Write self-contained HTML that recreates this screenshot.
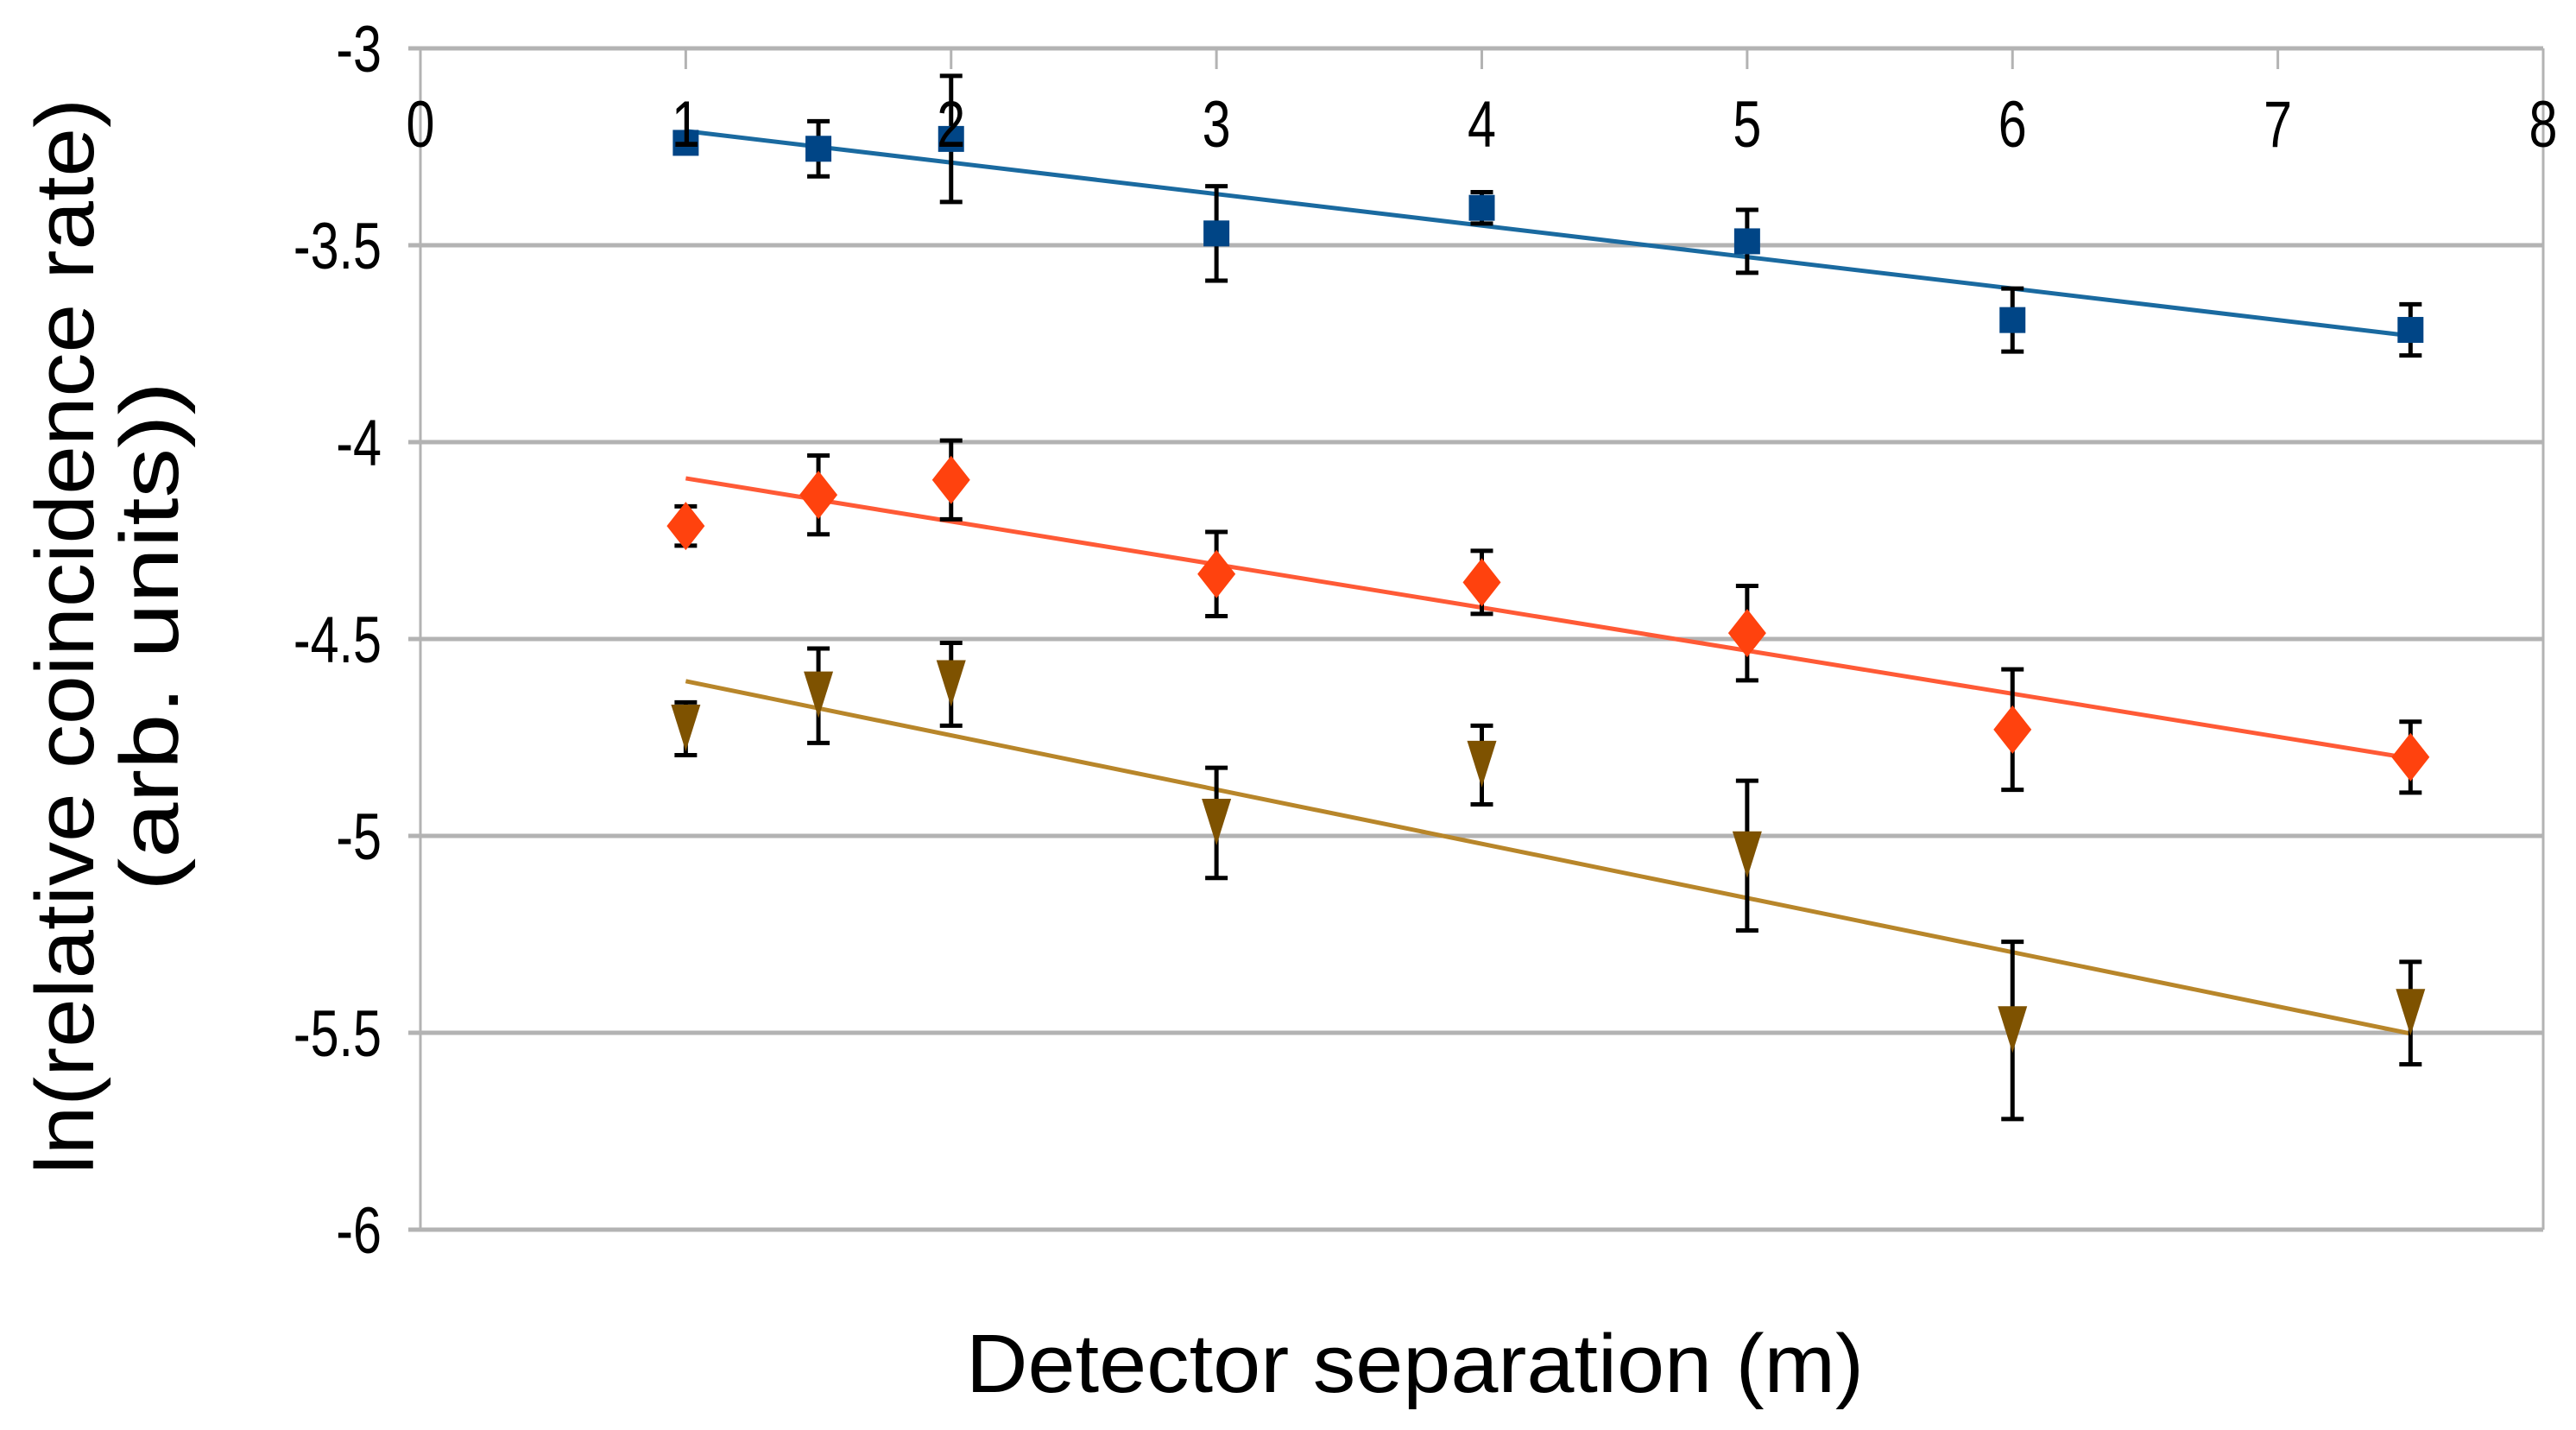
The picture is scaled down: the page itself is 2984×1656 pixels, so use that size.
<!DOCTYPE html>
<html><head><meta charset="utf-8"><style>
html,body{margin:0;padding:0;background:#fff;}
svg{display:block;font-family:"Liberation Sans",sans-serif;}
</style></head><body>
<svg id="chart" width="2984" height="1656" viewBox="0 0 2984 1656" xmlns="http://www.w3.org/2000/svg">
<g id="grid"></g>
<g id="fits"></g>
<g id="errs"></g>
<g id="marks"></g>
<g id="labels"></g>
<text x="1639" y="1612" font-size="96" text-anchor="middle" textLength="1040" lengthAdjust="spacingAndGlyphs">Detector separation (m)</text>
<g transform="translate(76,737) rotate(-90)">
<text x="0" y="32" font-size="96" text-anchor="middle" textLength="1246" lengthAdjust="spacingAndGlyphs">ln(relative  coincidence rate)</text>
<text x="0" y="130" font-size="96" text-anchor="middle" textLength="590" lengthAdjust="spacingAndGlyphs">(arb. units))</text>
</g>
</svg>
<script>
const xs = [1, 1.5, 2, 3, 4, 5, 6, 7.5];
const blueVals = [-3.24, -3.255, -3.23, -3.47, -3.405, -3.49, -3.69, -3.715];
const blueErr = [0.02, 0.07, 0.16, 0.12, 0.04, 0.08, 0.08, 0.065];
const redVals = [-4.213, -4.134, -4.096, -4.335, -4.356, -4.485, -4.73, -4.8];
const redErr = [0.05, 0.10, 0.10, 0.107, 0.08, 0.12, 0.153, 0.09];
const brownVals = [-4.728, -4.644, -4.615, -4.967, -4.82, -5.05, -5.494, -5.45];
const brownErr = [0.067, 0.12, 0.105, 0.14, 0.10, 0.19, 0.225, 0.13];
const blueFit = [-3.21, -3.73];
const redFit = [-4.092, -4.803];
const brownFit = [-4.607, -5.502];
const fitRange = [1, 7.5];
const xTicks = [0, 1, 2, 3, 4, 5, 6, 7, 8];
const yTicks = [-3, -3.5, -4, -4.5, -5, -5.5, -6];

const X0 = 487, X1 = 2946, Y0 = 56, Y1 = 1424;
const sx = v => X0 + (v - 0) / 8 * (X1 - X0);
const sy = v => Y0 + (-3 - v) / 3 * (Y1 - Y0);
const NS = "http://www.w3.org/2000/svg";
function mk(tag, parent, attrs) {
  const e = document.createElementNS(NS, tag);
  for (const k in attrs) e.setAttribute(k, attrs[k]);
  parent.appendChild(e);
  return e;
}
const grid = document.getElementById('grid');
const labels = document.getElementById('labels');
yTicks.forEach(t => {
  const l = mk('line', grid, {x1: X0 - 14, x2: X1, y1: sy(t), y2: sy(t), stroke: '#b3b3b3', 'stroke-width': 5});
  
  
  const tx = mk('text', labels, {x: 442, y: sy(t) + 27, 'font-size': 76, 'text-anchor': 'end', transform: `translate(442,0) scale(0.78,1) translate(-442,0)`});
  tx.textContent = String(t);
  
  
});
const vax = mk('line', grid, {x1: X0, x2: X0, y1: Y0, y2: Y1, stroke: '#b3b3b3', 'stroke-width': 3});


const rax = mk('line', grid, {x1: X1, x2: X1, y1: Y0, y2: Y1, stroke: '#b3b3b3', 'stroke-width': 3});


xTicks.forEach(t => {
  const l = mk('line', grid, {x1: sx(t), x2: sx(t), y1: Y0, y2: Y0 + 24, stroke: '#b3b3b3', 'stroke-width': 3});
  
  
  const tx = mk('text', labels, {x: sx(t), y: 170, 'font-size': 76, 'text-anchor': 'middle', transform: `translate(${sx(t)},0) scale(0.78,1) translate(${-sx(t)},0)`});
  tx.textContent = String(t);
  
  
});
const fits = document.getElementById('fits');
const errs = document.getElementById('errs');
const marks = document.getElementById('marks');
const series = [
  {name: 'blue', vals: blueVals, err: blueErr, fit: blueFit, lc: '#1a6aa0', mc: '#004586', shape: 'square'},
  {name: 'red', vals: redVals, err: redErr, fit: redFit, lc: '#ff5a36', mc: '#ff420e', shape: 'diamond'},
  {name: 'brown', vals: brownVals, err: brownErr, fit: brownFit, lc: '#b8862a', mc: '#7e5200', shape: 'triangle'}
];
series.forEach(s => {
  const f = mk('line', fits, {x1: sx(fitRange[0]), y1: sy(s.fit[0]), x2: sx(fitRange[1]), y2: sy(s.fit[1]), stroke: s.lc, 'stroke-width': 5});
  
  
  xs.forEach((x, i) => {
    const cx = sx(x), cy = sy(s.vals[i]);
    const top = sy(s.vals[i] + s.err[i]), bot = sy(s.vals[i] - s.err[i]);
    const eb = mk('path', errs, {d: `M${cx},${top}V${bot}M${cx-13},${top}H${cx+13}M${cx-13},${bot}H${cx+13}`, stroke: '#000', 'stroke-width': 5, fill: 'none'});
    
    
    let m;
    if (s.shape === 'square') m = mk('rect', marks, {x: cx - 15, y: cy - 15, width: 30, height: 30, fill: s.mc});
    else if (s.shape === 'diamond') m = mk('polygon', marks, {points: `${cx},${cy-28} ${cx+22},${cy} ${cx},${cy+28} ${cx-22},${cy}`, fill: s.mc});
    else m = mk('polygon', marks, {points: `${cx-17},${cy-28} ${cx+17},${cy-28} ${cx},${cy+26}`, fill: s.mc});
    
    
  });
});
</script>
</body></html>
